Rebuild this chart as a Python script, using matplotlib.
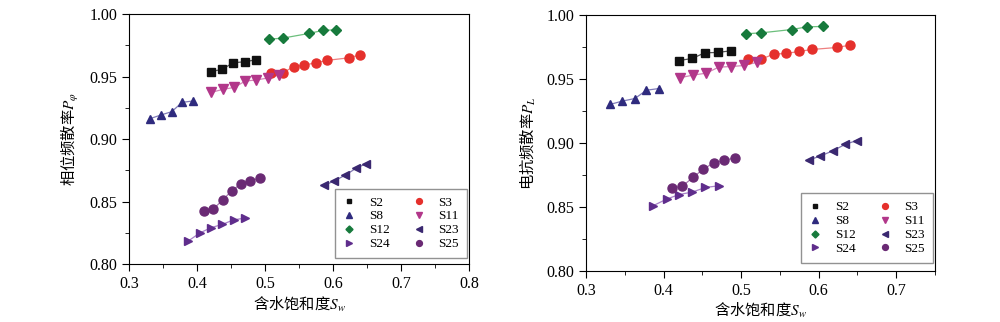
import matplotlib.pyplot as plt
from matplotlib.ticker import MultipleLocator

plt.rcParams['font.family'] = ['Liberation Serif', 'Noto Sans CJK SC']
plt.rcParams['mathtext.fontset'] = 'stix'

# 相位频散率 P_phi (左图)
x_s2 = [0.420, 0.437, 0.453, 0.470, 0.487]
x_s3 = [0.509, 0.526, 0.542, 0.558, 0.575, 0.591, 0.624, 0.640]
x_s8 = [0.331, 0.347, 0.363, 0.378, 0.394]
x_s11 = [0.421, 0.438, 0.455, 0.471, 0.487, 0.504, 0.521]
x_s12 = [0.506, 0.526, 0.565, 0.585, 0.605]
x_s23 = [0.587, 0.602, 0.618, 0.634, 0.649]
x_s24 = [0.387, 0.404, 0.420, 0.437, 0.454, 0.471]
x_s25 = [0.411, 0.424, 0.438, 0.451, 0.465, 0.478, 0.492]

p_s2 = [0.9540, 0.9558, 0.9611, 0.9619, 0.9635]
p_s3 = [0.9531, 0.9531, 0.9579, 0.9593, 0.9611, 0.9630, 0.9651, 0.9675]
p_s8 = [0.9164, 0.9193, 0.9220, 0.9294, 0.9305]
p_s11 = [0.9374, 0.9398, 0.9414, 0.9465, 0.9473, 0.9489, 0.9515]
p_s12 = [0.9800, 0.9808, 0.9846, 0.9870, 0.9875]
p_s23 = [0.8629, 0.8666, 0.8711, 0.8767, 0.8804]
p_s24 = [0.8184, 0.8248, 0.8290, 0.8317, 0.8354, 0.8368]
p_s25 = [0.8426, 0.8440, 0.8514, 0.8586, 0.8644, 0.8666, 0.8687]

# 电抗频散率 P_L (右图)
l_s2 = [0.9643, 0.9659, 0.9703, 0.9706, 0.9719]
l_s3 = [0.9656, 0.9654, 0.9693, 0.9698, 0.9714, 0.9729, 0.9745, 0.9763]
l_s8 = [0.9300, 0.9326, 0.9346, 0.9411, 0.9424]
l_s11 = [0.9508, 0.9529, 0.9544, 0.9591, 0.9596, 0.9604, 0.9630]
l_s12 = [0.9852, 0.9859, 0.9885, 0.9906, 0.9909]
l_s23 = [0.8865, 0.8896, 0.8937, 0.8987, 0.9018]
l_s24 = [0.8510, 0.8560, 0.8596, 0.8615, 0.8651, 0.8664]
l_s25 = [0.8646, 0.8661, 0.8729, 0.8794, 0.8844, 0.8862, 0.8883]

names = ['S2', 'S3', 'S8', 'S11', 'S12', 'S23', 'S24', 'S25']
xs = [x_s2, x_s3, x_s8, x_s11, x_s12, x_s23, x_s24, x_s25]
left_vals = [p_s2, p_s3, p_s8, p_s11, p_s12, p_s23, p_s24, p_s25]
right_vals = [l_s2, l_s3, l_s8, l_s11, l_s12, l_s23, l_s24, l_s25]

markers = ['s', 'o', '^', 'v', 'D', '<', '>', 'o']
colors = ['#111111', '#e5302c', '#2f2b7e', '#b2378a', '#177a3c', '#3a2870', '#5f2d8c', '#6a2a74']
line_colors = ['#555555', '#ee8080', '#7f7ab8', '#d585b8', '#6cbf7c', '#8077b0', '#a880c8', '#a878b0']
sizes = [5.5, 6.5, 6, 6.5, 5.5, 6, 6, 6.5]


def draw(ax, vals, ylabel, xmax, leg_anchor):
    for i in range(len(names)):
        ax.plot(xs[i], vals[i], '-', color=line_colors[i], lw=0.9, zorder=1)
        ax.plot(xs[i], vals[i], linestyle='none', marker=markers[i], color=colors[i],
                ms=sizes[i], mec=colors[i], zorder=2, label=names[i])
    ax.set_xlim(0.3, xmax)
    ax.set_ylim(0.80, 1.00)
    ax.xaxis.set_major_locator(MultipleLocator(0.1))
    ax.xaxis.set_minor_locator(MultipleLocator(0.05))
    ax.yaxis.set_major_locator(MultipleLocator(0.05))
    ax.yaxis.set_minor_locator(MultipleLocator(0.025))
    ax.yaxis.set_major_formatter(plt.FormatStrFormatter('%.2f'))
    ax.xaxis.set_major_formatter(plt.FormatStrFormatter('%.1f'))
    ax.tick_params(which='both', direction='out', top=False, right=False, labelsize=11.5)
    ax.tick_params(which='major', length=5)
    ax.tick_params(which='minor', length=3)
    ax.set_xlabel('含水饱和度$S_w$', fontsize=11, labelpad=2, family='Noto Sans CJK SC')
    ax.set_ylabel(ylabel, fontsize=11, labelpad=6, family='Noto Sans CJK SC')
    # 图例: 两列, S2 S3 / S8 S11 / S12 S23 / S24 S25
    h, l = ax.get_legend_handles_labels()
    order = [0, 2, 4, 6, 1, 3, 5, 7]
    ax.legend([h[k] for k in order], [l[k] for k in order], ncol=2, loc='lower right',
              fontsize=9.5, frameon=True, fancybox=False, edgecolor='#777777',
              handlelength=1.0, handletextpad=1.0, columnspacing=1.7,
              labelspacing=0.12, markerscale=0.65, borderpad=0.6,
              borderaxespad=0, bbox_to_anchor=leg_anchor)


fig = plt.figure(figsize=(10, 3.22), dpi=100)
ax1 = fig.add_axes([0.129, 0.180, 0.340, 0.776])
ax2 = fig.add_axes([0.586, 0.159, 0.349, 0.795])

draw(ax1, left_vals, '相位频散率$P_\\varphi$', 0.8, (0.994, 0.024))
draw(ax2, right_vals, '电抗频散率$P_L$', 0.75, (0.994, 0.031))

fig.savefig('out.png', dpi=100)
